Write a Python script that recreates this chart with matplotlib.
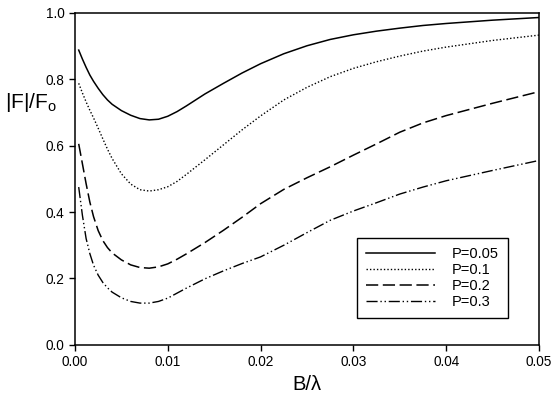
import matplotlib
matplotlib.use("Agg")
import matplotlib.pyplot as plt
from matplotlib.ticker import FormatStrFormatter

plt.rcParams['font.family'] = ['Liberation Sans', 'DejaVu Sans']

B = [0.0004, 0.0008, 0.0012, 0.0016, 0.002, 0.0025, 0.003, 0.0035, 0.004, 0.005,
     0.006, 0.007, 0.008, 0.009, 0.010, 0.011, 0.012, 0.014, 0.016, 0.018,
     0.020, 0.0225, 0.025, 0.0275, 0.030, 0.0325, 0.035, 0.0375, 0.040, 0.045,
     0.050]

F_p005 = [0.887, 0.860, 0.835, 0.812, 0.793, 0.772, 0.753, 0.737, 0.724, 0.705,
          0.691, 0.681, 0.677, 0.679, 0.688, 0.702, 0.719, 0.755, 0.787, 0.818,
          0.846, 0.876, 0.900, 0.919, 0.933, 0.944, 0.953, 0.961, 0.967, 0.977,
          0.985]
F_p01 = [0.787, 0.758, 0.731, 0.706, 0.683, 0.652, 0.620, 0.589, 0.561, 0.515,
         0.484, 0.467, 0.463, 0.467, 0.476, 0.492, 0.513, 0.557, 0.602, 0.647,
         0.689, 0.737, 0.775, 0.807, 0.832, 0.852, 0.869, 0.884, 0.896, 0.916,
         0.932]
F_p02 = [0.605, 0.545, 0.485, 0.430, 0.386, 0.344, 0.314, 0.293, 0.277, 0.256,
         0.241, 0.233, 0.231, 0.235, 0.244, 0.258, 0.274, 0.308, 0.345, 0.384,
         0.425, 0.468, 0.503, 0.536, 0.571, 0.605, 0.640, 0.668, 0.690, 0.727,
         0.762]
F_p03 = [0.475, 0.390, 0.320, 0.275, 0.240, 0.210, 0.188, 0.172, 0.159, 0.142,
         0.131, 0.126, 0.126, 0.131, 0.141, 0.156, 0.171, 0.199, 0.223, 0.245,
         0.265, 0.300, 0.338, 0.375, 0.403, 0.428, 0.454, 0.475, 0.494, 0.525,
         0.555]

labels = ["P=0.05", "P=0.1", "P=0.2", "P=0.3"]
x_ticks = [0.00, 0.01, 0.02, 0.03, 0.04, 0.05]
y_ticks = [0.0, 0.2, 0.4, 0.6, 0.8, 1.0]

fig = plt.figure(figsize=(5.53, 4.09), dpi=100)
ax = fig.add_axes([0.1356, 0.1565, 0.8391, 0.8129])

ax.plot(B, F_p005, color='black', lw=1.1, linestyle='-', label=labels[0])
ax.plot(B, F_p01, color='black', lw=1.0, linestyle=(0, (1, 1.5)), label=labels[1])
ax.plot(B, F_p02, color='black', lw=1.1, linestyle=(0, (8, 3)), label=labels[2])
ax.plot(B, F_p03, color='black', lw=1.0, linestyle=(0, (8, 2, 1, 2, 1, 2)), label=labels[3])

ax.set_xlim(0, 0.05)
ax.set_ylim(0, 1.0)
ax.set_xticks(x_ticks)
ax.set_yticks(y_ticks)
ax.xaxis.set_major_formatter(FormatStrFormatter('%.2f'))
ax.yaxis.set_major_formatter(FormatStrFormatter('%.1f'))
ax.tick_params(direction='out', length=4, width=1, labelsize=9.8, colors='black')
for s in ax.spines.values():
    s.set_linewidth(1.1)
    s.set_color('black')

ax.set_xlabel('B/λ', fontsize=14.5, va='center')
ax.xaxis.set_label_coords(0.5, -0.12)
ax.set_ylabel('|F|/F$_\\mathregular{o}$', fontsize=15, rotation=0, ha='right', va='center')
ax.yaxis.set_label_coords(-0.038, 0.73)

leg = ax.legend(loc='lower right', bbox_to_anchor=(0.933, 0.081), borderaxespad=0,
                fontsize=10.5, handlelength=4.7, handletextpad=1.2, fancybox=False,
                edgecolor='black', framealpha=1, labelspacing=0.15,
                borderpad=0.6)
leg.get_frame().set_linewidth(1.0)

fig.savefig('out.png', dpi=100)
